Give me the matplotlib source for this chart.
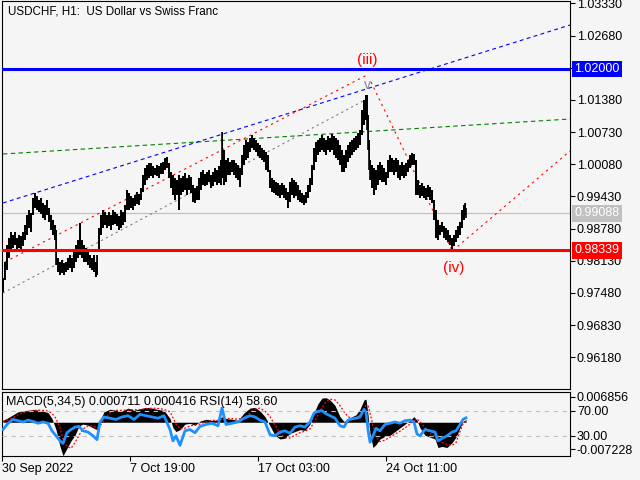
import matplotlib
matplotlib.use("Agg")  # no display
import matplotlib.pyplot as plt

plt.rcParams["font.family"] = ["Liberation Sans", "DejaVu Sans"]

BG = "#f5f5f5"

# --- H1 bars, sampled (bar index, high, low) ---
bar_x = [
    1, 3, 5, 7, 9, 11, 13, 15, 17, 19,
    21, 23, 25, 27, 29, 31, 33, 35, 37, 39,
    41, 43, 45, 47, 49, 51, 53, 54, 56, 58,
    60, 62, 64, 66, 68, 70, 72, 74, 76, 78,
    80, 82, 84, 86, 88, 90, 92, 94, 95, 97,
    99, 101, 103, 105, 107, 109, 111, 113, 115, 117,
    119, 121, 123, 125, 127, 129, 131, 133, 135, 137,
    139, 141, 143, 145, 147, 149, 151, 153, 155, 157,
    159, 161, 163, 165, 167, 169, 171, 173, 175, 177,
    179, 181, 183, 185, 187, 189, 191, 193, 195, 197,
    199, 201, 203, 205, 207, 209, 211, 213, 215, 217,
    219, 220, 222, 224, 226, 228, 230, 232, 234, 236,
    238, 240, 242, 244, 246, 248, 250, 252, 254, 256,
    258, 260, 262, 264, 266, 268, 270, 272, 274, 276,
    278, 280, 282, 284, 286, 288, 290, 292, 294, 296,
    298, 300, 302, 304, 306, 308, 310, 312, 314, 316,
    318, 320, 322, 324, 326, 328, 330, 332, 334, 336,
    338, 340, 342, 344, 346, 348, 350, 352, 354, 356,
    358, 360, 362, 364, 365, 366, 367, 368, 370, 372,
    374, 376, 378, 380, 382, 384, 386, 388, 390, 392,
    394, 396, 398, 400, 402, 404, 406, 408, 410, 412,
    414, 416, 418, 420, 422, 424, 426, 428, 430, 432,
    434, 436, 438, 440, 442, 444, 446, 448, 450, 452,
    454, 456, 458, 460, 462, 463, 464,
]
bar_high = [
    0.9778, 0.9810, 0.9845, 0.9859, 0.9871, 0.9865, 0.9871, 0.9859, 0.9865, 0.9863,
    0.9871, 0.9885, 0.9905, 0.9916, 0.9909, 0.9940, 0.9950, 0.9944, 0.9936, 0.9940,
    0.9930, 0.9926, 0.9936, 0.9920, 0.9905, 0.9895, 0.9885, 0.9875, 0.9818, 0.9810,
    0.9814, 0.9808, 0.9810, 0.9818, 0.9825, 0.9818, 0.9835, 0.9845, 0.9855, 0.9889,
    0.9855, 0.9845, 0.9839, 0.9831, 0.9825, 0.9818, 0.9825, 0.9810, 0.9825, 0.9879,
    0.9905, 0.9916, 0.9912, 0.9905, 0.9912, 0.9905, 0.9916, 0.9912, 0.9907, 0.9903,
    0.9916, 0.9912, 0.9926, 0.9956, 0.9950, 0.9944, 0.9940, 0.9946, 0.9952, 0.9948,
    0.9960, 0.9986, 1.0000, 1.0006, 1.0010, 1.0010, 1.0004, 1.0000, 1.0006, 1.0004,
    1.0010, 1.0012, 1.0021, 1.0023, 1.0010, 0.9992, 0.9986, 0.9980, 0.9976, 0.9986,
    0.9980, 0.9984, 0.9990, 0.9980, 0.9986, 0.9982, 0.9966, 0.9960, 0.9964, 0.9980,
    0.9992, 0.9996, 0.9988, 0.9992, 0.9996, 0.9986, 0.9992, 1.0000, 0.9996, 1.0004,
    1.0016, 1.0073, 1.0037, 1.0016, 1.0021, 1.0012, 1.0016, 1.0016, 1.0010, 1.0006,
    1.0000, 1.0027, 1.0047, 1.0057, 1.0053, 1.0061, 1.0067, 1.0061, 1.0057, 1.0051,
    1.0047, 1.0041, 1.0037, 1.0033, 1.0027, 0.9996, 0.9980, 0.9976, 0.9972, 0.9970,
    0.9966, 0.9970, 0.9966, 0.9960, 0.9952, 0.9972, 0.9980, 0.9976, 0.9972, 0.9966,
    0.9956, 0.9950, 0.9946, 0.9952, 0.9966, 0.9980, 1.0006, 1.0041, 1.0053, 1.0057,
    1.0061, 1.0067, 1.0061, 1.0057, 1.0065, 1.0061, 1.0069, 1.0065, 1.0061, 1.0057,
    1.0047, 1.0037, 1.0027, 1.0037, 1.0047, 1.0053, 1.0057, 1.0061, 1.0065, 1.0071,
    1.0077, 1.0118, 1.0138, 1.0148, 1.0148, 1.0107, 1.0057, 1.0016, 1.0006, 1.0000,
    0.9996, 1.0006, 1.0012, 1.0006, 1.0000, 0.9992, 1.0016, 1.0027, 1.0021, 1.0016,
    1.0021, 1.0016, 1.0006, 1.0012, 1.0006, 1.0010, 1.0016, 1.0027, 1.0031, 1.0029,
    1.0016, 0.9976, 0.9966, 0.9970, 0.9964, 0.9960, 0.9966, 0.9962, 0.9956, 0.9936,
    0.9916, 0.9895, 0.9885, 0.9891, 0.9883, 0.9879, 0.9875, 0.9865, 0.9859, 0.9865,
    0.9875, 0.9883, 0.9891, 0.9916, 0.9926, 0.9930, 0.9920,
]
bar_low = [
    0.9750, 0.9774, 0.9794, 0.9818, 0.9835, 0.9839, 0.9845, 0.9835, 0.9839, 0.9831,
    0.9843, 0.9855, 0.9865, 0.9879, 0.9871, 0.9905, 0.9920, 0.9916, 0.9912, 0.9907,
    0.9899, 0.9895, 0.9905, 0.9891, 0.9875, 0.9865, 0.9855, 0.9804, 0.9790, 0.9784,
    0.9788, 0.9784, 0.9790, 0.9794, 0.9798, 0.9790, 0.9798, 0.9810, 0.9818, 0.9825,
    0.9818, 0.9810, 0.9810, 0.9804, 0.9798, 0.9794, 0.9790, 0.9780, 0.9784, 0.9835,
    0.9865, 0.9879, 0.9885, 0.9879, 0.9883, 0.9875, 0.9885, 0.9887, 0.9883, 0.9875,
    0.9879, 0.9885, 0.9891, 0.9916, 0.9916, 0.9920, 0.9916, 0.9924, 0.9928, 0.9926,
    0.9936, 0.9952, 0.9966, 0.9976, 0.9980, 0.9984, 0.9980, 0.9986, 0.9984, 0.9980,
    0.9988, 0.9988, 0.9996, 1.0000, 0.9980, 0.9960, 0.9946, 0.9936, 0.9946, 0.9916,
    0.9946, 0.9952, 0.9956, 0.9946, 0.9956, 0.9950, 0.9932, 0.9930, 0.9936, 0.9936,
    0.9956, 0.9966, 0.9964, 0.9966, 0.9972, 0.9960, 0.9964, 0.9972, 0.9966, 0.9970,
    0.9966, 0.9980, 0.9966, 0.9972, 0.9986, 0.9986, 0.9992, 0.9986, 0.9980, 0.9976,
    0.9962, 0.9986, 1.0006, 1.0016, 1.0021, 1.0033, 1.0041, 1.0037, 1.0033, 1.0025,
    1.0021, 1.0016, 1.0012, 0.9996, 0.9992, 0.9960, 0.9952, 0.9950, 0.9946, 0.9944,
    0.9940, 0.9946, 0.9940, 0.9936, 0.9920, 0.9932, 0.9946, 0.9940, 0.9944, 0.9936,
    0.9932, 0.9930, 0.9926, 0.9930, 0.9940, 0.9952, 0.9966, 0.9996, 1.0012, 1.0027,
    1.0033, 1.0037, 1.0033, 1.0027, 1.0037, 1.0033, 1.0037, 1.0027, 1.0021, 1.0016,
    1.0006, 0.9992, 0.9992, 1.0000, 1.0012, 1.0021, 1.0027, 1.0033, 1.0037, 1.0041,
    1.0047, 1.0067, 1.0087, 1.0097, 1.0077, 1.0037, 0.9996, 0.9976, 0.9960, 0.9946,
    0.9956, 0.9966, 0.9976, 0.9972, 0.9972, 0.9966, 0.9980, 0.9992, 0.9992, 0.9986,
    0.9992, 0.9980, 0.9976, 0.9984, 0.9980, 0.9984, 0.9992, 1.0000, 1.0006, 1.0006,
    0.9946, 0.9946, 0.9940, 0.9944, 0.9940, 0.9936, 0.9942, 0.9936, 0.9930, 0.9895,
    0.9859, 0.9855, 0.9865, 0.9871, 0.9859, 0.9855, 0.9851, 0.9845, 0.9834, 0.9843,
    0.9851, 0.9859, 0.9865, 0.9879, 0.9895, 0.9905, 0.9899,
]

# --- MACD(5,34,5) histogram, signal, RSI(14) ---
ind_x = [
    1, 6, 11, 16, 21, 26, 31, 36, 41, 46,
    50, 54, 58, 61, 65, 69, 73, 77, 81, 86,
    91, 95, 98, 102, 108, 114, 120, 126, 132, 138,
    144, 150, 156, 162, 168, 171, 174, 178, 183, 188,
    193, 198, 204, 210, 216, 220, 224, 230, 236, 242,
    248, 253, 258, 263, 268, 273, 278, 283, 288, 293,
    298, 303, 308, 312, 316, 320, 324, 328, 333, 338,
    342, 346, 350, 354, 358, 362, 364, 366, 368, 371,
    374, 378, 383, 388, 393, 398, 403, 408, 412, 415,
    418, 423, 428, 433, 436, 440, 445, 450, 454, 458,
    461, 464,
]
macd = [
    0.0005, 0.0012, 0.0020, 0.0028, 0.0030, 0.0032, 0.0034, 0.0033, 0.0030, 0.0026,
    0.0010, -0.0020, -0.0065, -0.0090, -0.0070, -0.0050, -0.0035, -0.0010, -0.0005, -0.0008,
    -0.0015, -0.0020, 0.0005, 0.0028, 0.0035, 0.0032, 0.0030, 0.0038, 0.0032, 0.0036,
    0.0040, 0.0038, 0.0034, 0.0032, 0.0010, -0.0015, -0.0025, -0.0020, -0.0005, -0.0003,
    -0.0008, 0.0003, 0.0008, 0.0005, 0.0006, 0.0015, 0.0010, 0.0008, 0.0005, 0.0025,
    0.0038, 0.0040, 0.0030, 0.0015, -0.0010, -0.0035, -0.0045, -0.0043, -0.0030, -0.0025,
    -0.0020, -0.0022, -0.0005, 0.0025, 0.0050, 0.0065, 0.0066, 0.0060, 0.0045, 0.0015,
    0.0002, 0.0008, 0.0015, 0.0020, 0.0035, 0.0060, 0.0062, 0.0020, -0.0030, -0.0068,
    -0.0060, -0.0045, -0.0038, -0.0035, -0.0025, -0.0015, -0.0005, 0.0005, 0.0015, 0.0005,
    -0.0015, -0.0035, -0.0040, -0.0045, -0.0068, -0.0065, -0.0068, -0.0055, -0.0040, -0.0015,
    0.0002, 0.000711,
]
signal = [
    0.0003, 0.0006, 0.0012, 0.0020, 0.0026, 0.0029, 0.0031, 0.0033, 0.0032, 0.0030,
    0.0024, 0.0010, -0.0015, -0.0045, -0.0065, -0.0070, -0.0055, -0.0035, -0.0018, -0.0010,
    -0.0010, -0.0015, -0.0010, 0.0005, 0.0025, 0.0032, 0.0032, 0.0033, 0.0034, 0.0034,
    0.0036, 0.0038, 0.0037, 0.0035, 0.0028, 0.0012, -0.0005, -0.0018, -0.0016, -0.0010,
    -0.0007, -0.0005, 0.0002, 0.0005, 0.0005, 0.0008, 0.0010, 0.0010, 0.0008, 0.0012,
    0.0025, 0.0035, 0.0038, 0.0030, 0.0015, -0.0008, -0.0030, -0.0042, -0.0042, -0.0035,
    -0.0028, -0.0024, -0.0018, 0.0000, 0.0020, 0.0040, 0.0055, 0.0062, 0.0060, 0.0045,
    0.0028, 0.0015, 0.0010, 0.0013, 0.0020, 0.0035, 0.0045, 0.0045, 0.0025, -0.0010,
    -0.0040, -0.0052, -0.0048, -0.0040, -0.0032, -0.0024, -0.0015, -0.0005, 0.0005, 0.0008,
    0.0002, -0.0015, -0.0030, -0.0038, -0.0045, -0.0055, -0.0060, -0.0062, -0.0055, -0.0025,
    -0.0005, 0.000416,
]
rsi = [
    40, 50, 56, 54, 52, 55, 53, 50, 52, 50,
    38, 30, 22, 18, 35, 40, 44, 45, 38, 36,
    30, 24, 52, 60, 58, 56, 60, 62, 56, 64,
    62, 60, 58, 62, 40, 22, 30, 15, 38, 40,
    35, 45, 48, 50, 46, 74, 48, 50, 52, 58,
    62, 60, 55, 52, 32, 30, 36, 38, 34, 44,
    46, 44, 52, 66, 69, 70, 65, 62, 58, 46,
    44, 55, 57, 58, 60, 72, 68, 40, 20, 30,
    42, 38, 48, 50, 52, 50, 54, 55, 52, 33,
    30, 40, 38, 36, 22, 26, 30, 36, 38, 48,
    56, 58.6,
]

# --- axis labels and levels ---
price_ticks = [1.0333, 1.0268, 1.0203, 1.0138, 1.0073, 1.0008,
               0.9943, 0.9878, 0.9813, 0.9748, 0.9683, 0.9618]
date_pos = [0, 128, 256, 384]
date_labels = ["30 Sep 2022", "7 Oct 19:00", "17 Oct 03:00", "24 Oct 11:00"]
level_blue = 1.02000
level_red = 0.98339
last_price = 0.99088

# trend lines: (x0, p0, x1, p1)
green_line = (1, 1.00286, 568, 1.00993)
blue_line = (1, 0.99296, 568, 1.02892)
red_channel = (3, 0.98105, 365, 1.01882)
gray_line = (1, 0.97478, 363, 1.01377)
red_down = (369, 1.01741, 450, 0.98339)
red_up = (451, 0.98339, 568, 1.00347)

fig = plt.figure(figsize=(6.4, 4.8), dpi=100, facecolor=BG)

# ---------------- main price panel ----------------
ax = fig.add_axes([2 / 640, 1 - 389 / 480, 568 / 640, 388 / 480])
ax.set_facecolor(BG)
ax.set_xlim(0, 568)
ax.set_ylim(0.95539, 1.03377)

ax.axhline(last_price, color="#c0c0c0", lw=0.9, zorder=1)
ax.axhline(level_blue, color="#0000ff", lw=2.2, zorder=4)
ax.axhline(level_red, color="#ff0000", lw=2.2, zorder=4)

for (x0, p0, x1, p1), col, dash in [
    (green_line, "#008000", (4, 3)),
    (blue_line, "#0000ff", (3.5, 3)),
    (red_channel, "#ff0000", (2, 3.5)),
    (gray_line, "#808080", (2, 3)),
    (red_down, "#ff0000", (2, 3.5)),
    (red_up, "#ff0000", (2, 3.5)),
]:
    ax.plot([x0, x1], [p0, p1], color=col, lw=0.8, ls=(0, dash), zorder=2)

ax.fill_between(bar_x, bar_low, bar_high, step="mid", color="black", lw=0, zorder=3)
ax.vlines(bar_x, bar_low, bar_high, color="black", lw=1.2, zorder=3)

ax.text(365, 1.02185, "(iii)", color="#ff0000", fontsize=11, ha="center", va="center")
ax.text(452, 0.97983, "(iv)", color="#ff0000", fontsize=11, ha="center", va="center")
ax.text(365, 1.01690, "v", color="#7f8aa0", fontsize=10, ha="center", va="center")

ax.yaxis.tick_right()
ax.set_yticks(price_ticks)
# the 1.02030 label sits under the 1.02000 level box, so it stays blank
ax.set_yticklabels(["" if v == 1.0203 else f"{v:.5f}" for v in price_ticks])
ax.tick_params(axis="y", direction="out", length=3.5, width=0.8, pad=1.5, labelsize=9)
ax.set_xticks([])
for sp in ax.spines.values():
    sp.set_linewidth(0.8)

ytrans = ax.get_yaxis_transform()
for val, fc in [(level_blue, "#0000ff"), (last_price, "#c0c0c0"), (level_red, "#ff0000")]:
    ax.text(1.0075, val, f"{val:.5f}", transform=ytrans, color="white", fontsize=9,
            ha="left", va="center", zorder=6,
            bbox=dict(boxstyle="square,pad=0.18", fc=fc, ec="none"))

fig.text(8 / 640, 1 - 12 / 480, "USDCHF, H1:  US Dollar vs Swiss Franc",
         fontsize=8.4, va="center", ha="left")

# ---------------- MACD + RSI panel ----------------
ax2 = fig.add_axes([2 / 640, 1 - 456 / 480, 568 / 640, 64.5 / 480])
ax3 = ax2.twinx()  # RSI on the same panel

ax2.set_facecolor(BG)
ax2.set_xlim(0, 568)
ax2.set_ylim(-0.00908, 0.00827)
ax2.fill_between(ind_x, 0, macd, color="black", lw=0, zorder=2)
ax2.plot(ind_x, signal, color="#ff0000", lw=0.9, ls=(0, (1.5, 1.5)), zorder=3)
ax2.yaxis.tick_right()
ax2.set_yticks([0.006856, -0.007228])
ax2.set_yticklabels(["0.006856", "-0.007228"])
ax2.tick_params(axis="y", direction="out", length=3.5, width=0.8, pad=1.5, labelsize=9)
ax2.set_xticks(date_pos)
ax2.set_xticklabels(date_labels, ha="left")
ax2.tick_params(axis="x", direction="out", length=3.5, width=0.8, pad=1.5, labelsize=9)
for sp in ax2.spines.values():
    sp.set_linewidth(0.8)

ax3.set_ylim(-2.0, 100.4)
ax3.axhline(70, color="#c0c0c0", lw=0.8, ls=(0, (4, 4)), zorder=1)
ax3.axhline(30, color="#c0c0c0", lw=0.8, ls=(0, (4, 4)), zorder=1)
ax3.plot(ind_x, rsi, color="#1e90ff", lw=2.0, zorder=4)
ax3.yaxis.tick_right()
ax3.set_yticks([70, 30])
ax3.set_yticklabels(["70.00", "30.00"])
ax3.tick_params(axis="y", direction="out", length=3.5, width=0.8, pad=1.5, labelsize=9)
for sp in ax3.spines.values():
    sp.set_visible(False)

fig.text(6 / 640, 1 - 402 / 480, "MACD(5,34,5) 0.000711 0.000416 RSI(14) 58.60",
         fontsize=9, va="center", ha="left")

fig.savefig("out.png", dpi=100, facecolor=BG)
